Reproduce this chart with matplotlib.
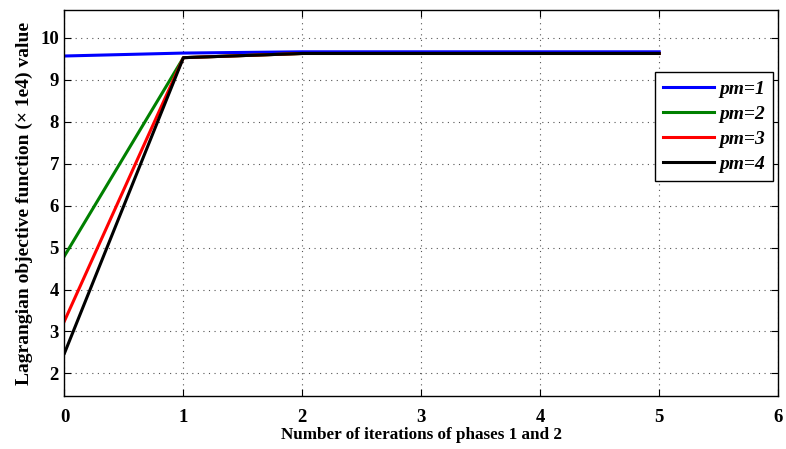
import matplotlib
matplotlib.use("Agg")
import matplotlib.pyplot as plt

iterations = [0, 1, 2, 3, 4, 5]
pm1 = [9.57, 9.64, 9.67, 9.67, 9.67, 9.67]
pm2 = [4.80, 9.53, 9.63, 9.63, 9.63, 9.63]
pm3 = [3.25, 9.53, 9.63, 9.63, 9.63, 9.63]
pm4 = [2.48, 9.53, 9.63, 9.63, 9.63, 9.63]
series_labels = ["pm=1", "pm=2", "pm=3", "pm=4"]
series_colors = ["#0000ff", "#008000", "#ff0000", "#000000"]
x_ticks = [0, 1, 2, 3, 4, 5, 6]
y_ticks = [2, 3, 4, 5, 6, 7, 8, 9, 10]

plt.rcParams["font.family"] = ["Liberation Serif", "DejaVu Serif"]
plt.rcParams["font.weight"] = "bold"

fig = plt.figure(figsize=(7.86, 4.49), dpi=100)
ax = fig.add_axes([0.082, 0.118, 0.908, 0.860])

for ys, lab, col in zip([pm1, pm2, pm3, pm4], series_labels, series_colors):
    ax.plot(iterations, ys, color=col, linewidth=2.2, label=lab)

ax.set_xlim(0, 6)
ax.set_ylim(1.46, 10.67)
ax.set_xticks(x_ticks)
ax.set_yticks(y_ticks)
ax.tick_params(direction="in", top=True, right=True, labelsize=13.5, length=5)
ax.tick_params(axis="x", pad=9)
ax.tick_params(axis="y", pad=4)
for lab in ax.get_xticklabels() + ax.get_yticklabels():
    lab.set_fontweight("bold")
ax.grid(True, linestyle=(0, (1, 4)), color="#555555", linewidth=0.8)
for s in ax.spines.values():
    s.set_linewidth(1.0)

ax.set_xlabel("Number of iterations of phases 1 and 2", fontsize=12.3, fontweight="bold", labelpad=1)
ax.set_ylabel("Lagrangian objective function (\u00d7 1e4) value", fontsize=14, fontweight="bold", labelpad=5)

leg = ax.legend(loc="upper right", bbox_to_anchor=(0.993, 0.838), borderaxespad=0,
                fancybox=False, framealpha=1, edgecolor="black",
                handlelength=2.6, handletextpad=0.3, borderpad=0.4, labelspacing=0.38,
                prop={"size": 14, "weight": "bold", "style": "italic"})
leg.get_frame().set_linewidth(1.0)

fig.savefig("out.png", dpi=100)
